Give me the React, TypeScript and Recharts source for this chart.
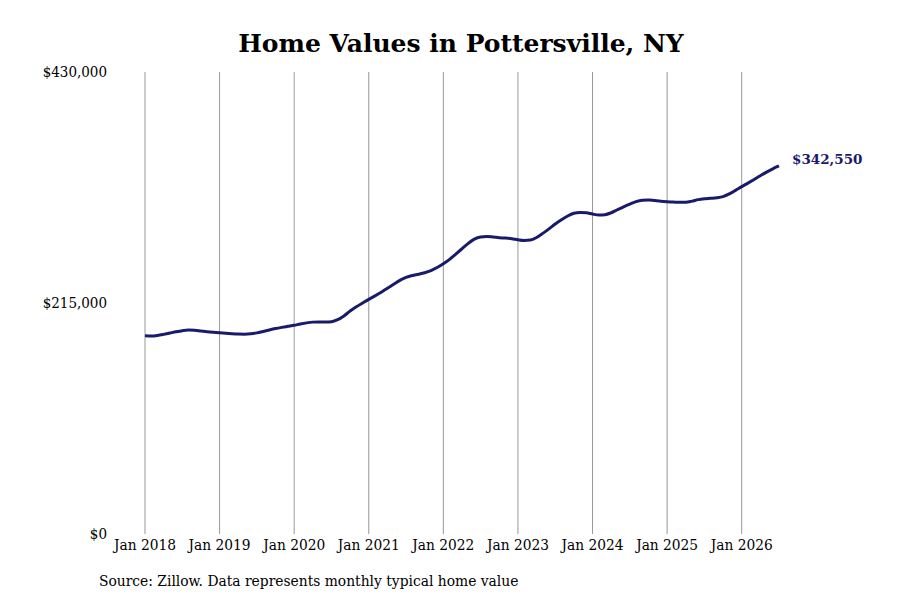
import { LineChart, Line, XAxis, YAxis, ReferenceLine, LabelList } from 'recharts';

const FONT = "'DejaVu Serif Condensed', 'DejaVu Serif', serif";
const TITLE_FONT = "'DejaVu Serif', serif";
const NAVY = '#1a1a6b';

const years = ['2018', '2019', '2020', '2021', '2022', '2023', '2024', '2025', '2026'];
const monthNames = ['Jan', 'Feb', 'Mar', 'Apr', 'May', 'Jun', 'Jul', 'Aug', 'Sep', 'Oct', 'Nov', 'Dec'];

// typical home value, thousands of dollars, Jan 2018 .. Jul 2026
const values2018 = [184.5, 184.3, 184.8, 185.8, 187.0, 188.2, 189.2, 189.8, 189.6, 188.9, 188.2, 187.7];
const values2019 = [187.3, 186.8, 186.4, 186.1, 186.0, 186.3, 187.2, 188.5, 189.9, 191.2, 192.3, 193.3];
const values2020 = [194.3, 195.5, 196.5, 197.2, 197.4, 197.3, 197.6, 199.5, 203.0, 207.5, 211.5, 215.0];
const values2021 = [218.4, 221.6, 225.0, 228.8, 232.5, 236.0, 238.8, 240.6, 241.8, 243.2, 245.2, 248.0];
const values2022 = [251.5, 255.6, 260.5, 265.5, 270.5, 274.5, 276.4, 276.9, 276.4, 275.8, 275.4, 274.8];
const values2023 = [273.8, 273.2, 273.6, 276.0, 279.8, 284.0, 288.5, 292.5, 296.0, 298.5, 299.3, 299.0];
const values2024 = [297.8, 296.9, 297.2, 299.0, 301.8, 304.5, 307.0, 309.3, 310.6, 310.9, 310.3, 309.7];
const values2025 = [309.3, 309.0, 308.7, 308.8, 309.8, 311.2, 312.0, 312.4, 312.9, 314.0, 316.5, 319.8];
const values2026 = [323.3, 326.6, 330.0, 333.5, 336.8, 339.9, 342.55];

const yearValues = [values2018, values2019, values2020, values2021, values2022, values2023, values2024, values2025, values2026];
const yTicks = [0, 215000, 430000];
const janLabels = years.map(y => `Jan ${y}`);

const data = yearValues.flatMap((vals, yi) =>
  vals.map((v, mi) => ({
    month: `${monthNames[mi]} ${years[yi]}`,
    value: Math.round(v * 1000),
  }))
);

const fmt = (v: number) => `$${v.toLocaleString('en-US')}`;

const EndLabel = (props: any) => {
  const { x, y, index } = props;
  if (index !== data.length - 1) return null;
  return (
    <text
      x={x + 13}
      y={y - 5}
      dominantBaseline="middle"
      fill={NAVY}
      fontFamily={TITLE_FONT}
      fontWeight="bold"
      fontSize={13.5}
    >
      $342,550
    </text>
  );
};

export default function App() {
  return (
    <div style={{ position: 'relative', width: 900, height: 600, background: '#fff', fontFamily: FONT }}>
      <style>{`body{margin:0}`}</style>
      <div
        style={{
          position: 'absolute',
          top: 28,
          left: 0,
          width: 922,
          textAlign: 'center',
          fontFamily: TITLE_FONT,
          fontSize: 25,
          fontWeight: 'bold',
          lineHeight: '32px',
          color: '#000',
        }}
      >
        Home Values in Pottersville, NY
      </div>
      <LineChart
        width={900}
        height={600}
        data={data}
        margin={{ top: 72, right: 121, bottom: 36, left: 0 }}
      >
        <XAxis
          dataKey="month"
          ticks={janLabels}
          interval={0}
          axisLine={false}
          tickLine={false}
          tickSize={0}
          tickMargin={5}
          height={30}
          tick={{ fill: '#000', fontSize: 15.3, fontFamily: FONT }}
        />
        <YAxis
          domain={[0, 430000]}
          ticks={yTicks}
          tickFormatter={fmt}
          axisLine={false}
          tickLine={false}
          tickSize={0}
          tickMargin={38}
          width={145}
          tick={{ fill: '#000', fontSize: 15, fontFamily: FONT }}
        />
        {janLabels.map(l => (
          <ReferenceLine key={l} x={l} stroke="#999" strokeWidth={1} />
        ))}
        <Line
          type="monotone"
          dataKey="value"
          stroke={NAVY}
          strokeWidth={3}
          dot={false}
          isAnimationActive={false}
        >
          <LabelList dataKey="value" content={EndLabel} />
        </Line>
      </LineChart>
      <div
        style={{
          position: 'absolute',
          top: 571,
          left: 99,
          fontSize: 15.4,
          lineHeight: '20px',
          color: '#000',
        }}
      >
        Source: Zillow. Data represents monthly typical home value
      </div>
    </div>
  );
}
